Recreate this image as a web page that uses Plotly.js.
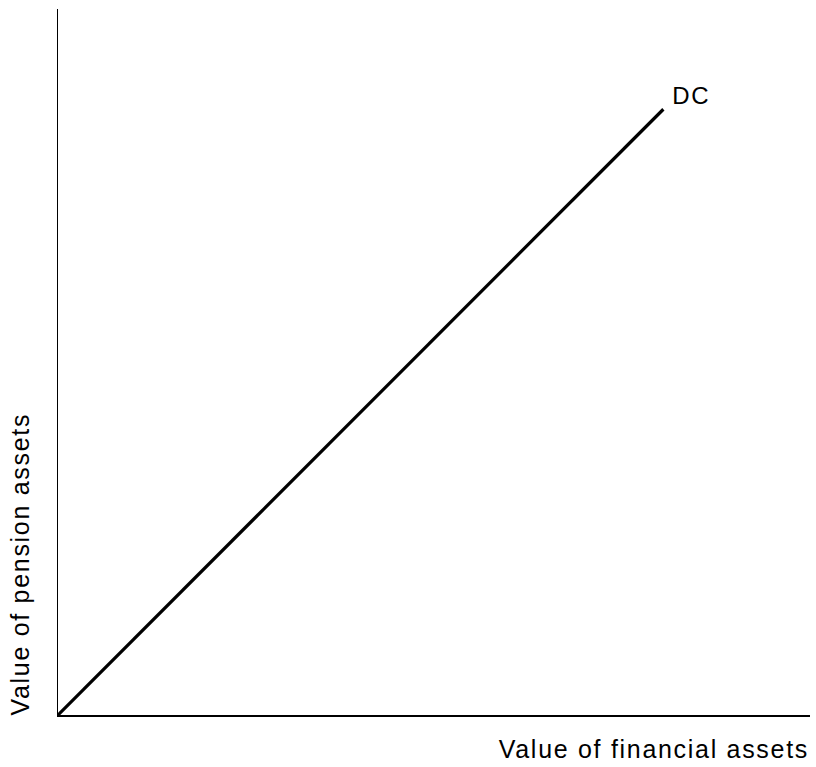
<!DOCTYPE html>
<html>
<head>
<meta charset="utf-8">
<script src="https://cdn.plot.ly/plotly-3.0.1.min.js"></script>
<style>
html,body{margin:0;padding:0;background:#fff;}
#chart{width:816px;height:767px;}
#chart .annotation-text{letter-spacing:1.7px;}
</style>
</head>
<body>
<div id="chart"></div>
<script>
const lineName = "DC";
const financialAssets = [0, 80.5];
const pensionAssets = [0, 85.8];
const xTitle = "Value of financial assets";
const yTitle = "Value of pension assets";

const fontFam = "Liberation Sans, Arial, sans-serif";

const trace = {
  x: financialAssets,
  y: pensionAssets,
  mode: "lines",
  type: "scatter",
  line: {color: "#000", width: 3.2},
  hoverinfo: "skip",
  showlegend: false
};

const layout = {
  width: 816,
  height: 767,
  margin: {l: 58, r: 6, t: 9, b: 52},
  paper_bgcolor: "#fff",
  plot_bgcolor: "#fff",
  showlegend: false,
  xaxis: {
    range: [0, 100], showline: true, linecolor: "#000", linewidth: 1.5,
    showgrid: false, zeroline: false, showticklabels: false, ticks: "", fixedrange: true
  },
  yaxis: {
    range: [0, 100], showline: true, linecolor: "#000", linewidth: 1.5,
    showgrid: false, zeroline: false, showticklabels: false, ticks: "", fixedrange: true
  },
  annotations: [
    {
      text: lineName, x: financialAssets[1], y: pensionAssets[1], xref: "x", yref: "y",
      xanchor: "left", yanchor: "bottom", xshift: 9, yshift: -2, showarrow: false,
      font: {family: fontFam, size: 24, color: "#000"}
    },
    {
      text: xTitle, x: 1, y: 0, xref: "paper", yref: "paper",
      xanchor: "right", yanchor: "top", xshift: -20, yshift: -18, showarrow: false,
      font: {family: fontFam, size: 25, color: "#000"}
    },
    {
      text: yTitle, x: 0, y: 0, xref: "paper", yref: "paper", textangle: -90,
      xanchor: "right", yanchor: "bottom", xshift: -22, yshift: 17, showarrow: false,
      font: {family: fontFam, size: 25, color: "#000"}
    }
  ]
};

Plotly.newPlot("chart", [trace], layout, {staticPlot: true, displayModeBar: false});
</script>
</body>
</html>
